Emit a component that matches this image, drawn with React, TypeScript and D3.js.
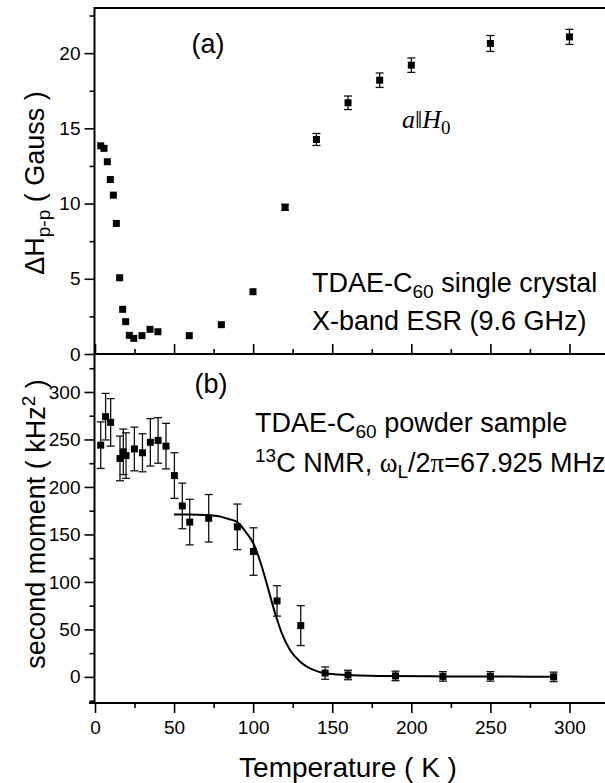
import React, { useEffect, useRef } from 'react';
import * as d3 from 'd3';

const FONT = '"Liberation Sans", Arial, Helvetica, sans-serif';
const SERIF = '"Liberation Serif", "Times New Roman", serif';

// panel (a): ESR linewidth vs temperature
const esrTemp = [3.6, 5.7, 7.8, 9.7, 11.6, 13.5, 15.6, 17.5, 19.4, 21.7, 24.5, 29.7, 34.8, 39.8, 59.6, 79.9, 99.9, 120.2, 140, 160, 180, 200, 250, 300];
const esrWidth = [13.84, 13.67, 12.78, 11.6, 10.56, 8.68, 5.07, 2.97, 2.15, 1.24, 1.04, 1.22, 1.64, 1.48, 1.22, 1.95, 4.14, 9.75, 14.26, 16.7, 18.2, 19.2, 20.64, 21.08];
const esrErr = [0, 0, 0, 0, 0, 0, 0, 0, 0, 0, 0, 0, 0, 0, 0, 0, 0, 0.2, 0.4, 0.45, 0.48, 0.48, 0.53, 0.5];

// panel (b): 13C NMR second moment vs temperature
const nmrTemp = [3.6, 6.7, 9.9, 15.8, 17.9, 19.6, 24.9, 30, 35, 39.9, 44.9, 50.2, 55.2, 59.9, 71.9, 90, 100.2, 115.1, 130.1, 145.5, 160, 190, 220, 250, 290];
const nmrM2 = [244, 274, 268, 230, 237, 233, 240, 236, 247, 249, 243, 212, 180, 163, 167, 158, 132, 80, 54, 4, 2, 1, 0.5, 0.5, 0];
const nmrErr = [24.5, 24.5, 25, 23.5, 24, 24, 23, 20, 25, 24, 24, 24, 24, 24, 25, 24, 25, 16, 21, 6.5, 5, 5, 5, 5, 5];

// fitted curve
const fitTemp = [50, 60, 70, 80, 85, 90, 96, 100, 105.5, 109.7, 113.9, 118.1, 123.4, 129.7, 138.2, 145.5, 159.2, 180, 220, 260, 290];
const fitM2 = [171, 171, 170.5, 168.5, 166, 163, 151, 141, 116, 91.5, 67, 46, 28, 16, 7.3, 3.8, 2, 1, 0.5, 0.3, 0.2];

const xMajor = [0, 50, 100, 150, 200, 250, 300];
const xMinor = [25, 75, 125, 175, 225, 275, 325];
const aMajor = [0, 5, 10, 15, 20];
const aMinor = [2.5, 7.5, 12.5, 17.5, 22.5];
const bMajor = [0, 50, 100, 150, 200, 250, 300];
const bMinor = [-25, 25, 75, 125, 175, 225, 275, 325];

export default function App() {
  const ref = useRef(null);

  useEffect(() => {
    const svg = d3.select(ref.current);
    svg.selectAll('*').remove();

    const x = d3.scaleLinear().domain([0, 325]).range([95, 609]);
    const yA = d3.scaleLinear().domain([0, 23]).range([354, 8]);
    const yB = d3.scaleLinear().domain([-27.5, 340]).range([703, 354]);

    const tidy = (g, size) => {
      g.select('.domain').remove();
      g.selectAll('line').attr('stroke', '#000').attr('stroke-width', size);
      g.selectAll('text').attr('font-family', FONT).attr('font-size', 19).attr('fill', '#000');
    };

    // x axes: bottom of (b), and the shared line between panels
    svg.append('g').attr('transform', 'translate(0,703)')
      .call(d3.axisBottom(x).tickValues(xMajor).tickSize(10).tickPadding(8).tickFormat(d3.format('d')))
      .call(g => tidy(g, 1.6));
    svg.append('g').attr('transform', 'translate(0,703)')
      .call(d3.axisBottom(x).tickValues(xMinor).tickSize(5).tickFormat(() => ''))
      .call(g => tidy(g, 1.6));
    svg.append('g').attr('transform', 'translate(0,354)')
      .call(d3.axisTop(x).tickValues(xMajor).tickSize(10).tickFormat(() => ''))
      .call(g => tidy(g, 1.6));
    svg.append('g').attr('transform', 'translate(0,354)')
      .call(d3.axisTop(x).tickValues(xMinor).tickSize(5).tickFormat(() => ''))
      .call(g => tidy(g, 1.6));

    // y axes
    svg.append('g').attr('transform', 'translate(94.5,0)')
      .call(d3.axisLeft(yA).tickValues(aMajor).tickSize(10).tickPadding(4).tickFormat(d3.format('d')))
      .call(g => tidy(g, 1.6));
    svg.append('g').attr('transform', 'translate(94.5,0)')
      .call(d3.axisLeft(yA).tickValues(aMinor).tickSize(5).tickFormat(() => ''))
      .call(g => tidy(g, 1.6));
    svg.append('g').attr('transform', 'translate(94.5,0)')
      .call(d3.axisLeft(yB).tickValues(bMajor).tickSize(10).tickPadding(4).tickFormat(d3.format('d')))
      .call(g => tidy(g, 1.6));
    svg.append('g').attr('transform', 'translate(94.5,0)')
      .call(d3.axisLeft(yB).tickValues(bMinor).tickSize(5).tickFormat(() => ''))
      .call(g => tidy(g, 1.6));

    // frame lines
    const frame = svg.append('g').attr('stroke', '#000').attr('stroke-width', 2);
    frame.append('line').attr('x1', 94.5).attr('x2', 94.5).attr('y1', 7).attr('y2', 704);
    frame.append('line').attr('x1', 94).attr('x2', 605).attr('y1', 8).attr('y2', 8);
    frame.append('line').attr('x1', 94).attr('x2', 605).attr('y1', 354).attr('y2', 354);
    frame.append('line').attr('x1', 89).attr('x2', 605).attr('y1', 703).attr('y2', 703);

    // error bars + squares
    const drawPoints = (temps, vals, errs, y) => {
      const g = svg.append('g');
      temps.forEach((t, i) => {
        const cx = x(t);
        if (errs[i] > 0) {
          const y1 = y(vals[i] - errs[i]);
          const y2 = y(vals[i] + errs[i]);
          g.append('line').attr('x1', cx).attr('x2', cx).attr('y1', y1).attr('y2', y2)
            .attr('stroke', '#111').attr('stroke-width', 1.3);
          [y1, y2].forEach(yy => {
            g.append('line').attr('x1', cx - 4).attr('x2', cx + 4).attr('y1', yy).attr('y2', yy)
              .attr('stroke', '#111').attr('stroke-width', 1.3);
          });
        }
        g.append('rect').attr('x', cx - 3.5).attr('y', y(vals[i]) - 3.5)
          .attr('width', 7).attr('height', 7).attr('fill', '#000');
      });
    };

    // fit line in (b)
    const fitLine = d3.line()
      .x((d, i) => x(fitTemp[i]))
      .y(d => yB(d))
      .curve(d3.curveMonotoneX);
    svg.append('path').attr('d', fitLine(fitM2))
      .attr('fill', 'none').attr('stroke', '#000').attr('stroke-width', 2);

    drawPoints(esrTemp, esrWidth, esrErr, yA);
    drawPoints(nmrTemp, nmrM2, nmrErr, yB);

    // labels
    const txt = (px, py, size = 27) => svg.append('text')
      .attr('x', px).attr('y', py)
      .attr('font-family', FONT).attr('font-size', size).attr('fill', '#000');

    txt(348, 777, 28).attr('text-anchor', 'middle').text('Temperature ( K )');

    const tA = svg.append('text').attr('transform', 'translate(44,183) rotate(-90)')
      .attr('text-anchor', 'middle').attr('font-family', FONT).attr('font-size', 27).attr('fill', '#000');
    tA.append('tspan').text('ΔH');
    tA.append('tspan').attr('dy', 6).attr('font-size', 19).text('p-p');
    tA.append('tspan').attr('dy', -6).text(' ( Gauss )');

    const tB = svg.append('text').attr('transform', 'translate(45,524) rotate(-90)')
      .attr('text-anchor', 'middle').attr('font-family', FONT).attr('font-size', 27).attr('fill', '#000');
    tB.append('tspan').text('second moment ( kHz');
    tB.append('tspan').attr('dy', -10).attr('font-size', 19).text('2');
    tB.append('tspan').attr('dy', 10).text(' )');

    txt(208, 53).attr('text-anchor', 'middle').text('(a)');
    txt(211, 393).attr('text-anchor', 'middle').text('(b)');

    const aH = svg.append('text').attr('x', 402).attr('y', 128)
      .attr('font-family', SERIF).attr('font-size', 26).attr('fill', '#000');
    aH.append('tspan').attr('font-style', 'italic').text('a');
    aH.append('tspan').text('‖');
    aH.append('tspan').attr('font-style', 'italic').text('H');
    aH.append('tspan').attr('dy', 6).attr('font-size', 19).text('0');

    const l1 = txt(312, 292);
    l1.append('tspan').text('TDAE-C');
    l1.append('tspan').attr('dy', 6).attr('font-size', 19).text('60');
    l1.append('tspan').attr('dy', -6).text(' single crystal');
    txt(312, 330).text('X-band ESR (9.6 GHz)');

    const l3 = txt(255, 432);
    l3.append('tspan').text('TDAE-C');
    l3.append('tspan').attr('dy', 6).attr('font-size', 19).text('60');
    l3.append('tspan').attr('dy', -6).text(' powder sample');

    const l4 = txt(255, 472);
    l4.append('tspan').attr('dy', -10).attr('font-size', 19).text('13');
    l4.append('tspan').attr('dy', 10).text('C NMR, ');
    l4.append('tspan').attr('font-family', SERIF).text('ω');
    l4.append('tspan').attr('dy', 6).attr('font-size', 19).text('L');
    l4.append('tspan').attr('dy', -6).text('/2');
    l4.append('tspan').attr('font-family', SERIF).text('π');
    l4.append('tspan').text('=67.925 MHz');
  }, []);

  return (
    <div style={{ position: 'absolute', left: 0, top: 0 }}>
      <svg ref={ref} width={605} height={783} style={{ display: 'block', background: '#fff' }} />
    </div>
  );
}
